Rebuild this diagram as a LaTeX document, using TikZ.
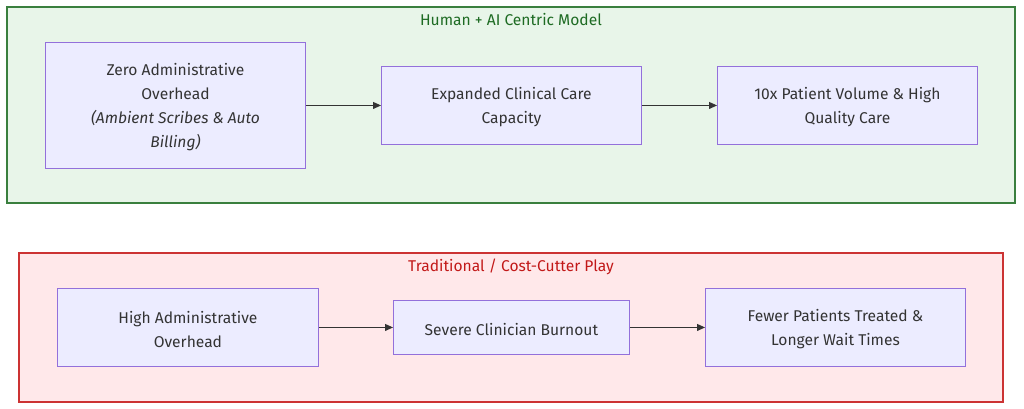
\documentclass[tikz,border=0pt]{standalone}
\usepackage{fontspec}
\setmainfont{Fira Sans}
\usetikzlibrary{arrows.meta}
\definecolor{nodefill}{HTML}{ECECFF}
\definecolor{nodeline}{HTML}{9370DB}
\definecolor{gfill}{HTML}{E8F5E9}
\definecolor{gline}{HTML}{3A7F3E}
\definecolor{gtext}{HTML}{1E6B23}
\definecolor{rfill}{HTML}{FFE8EA}
\definecolor{rline}{HTML}{CC3333}
\definecolor{rtext}{HTML}{C21818}
\definecolor{edge}{HTML}{333333}
\begin{document}
\begin{tikzpicture}[x=1pt,y=-1pt,
  box/.style={draw=nodeline,fill=nodefill,line width=0.9pt,inner sep=0pt,anchor=north west},
  txt/.style={font=\fontsize{15.6}{24}\selectfont,text=edge,align=center},
  flow/.style={draw=edge,line width=0.9pt,-{Triangle[length=8pt,width=7pt]}},
  grp/.style={line width=1.6pt}]
\useasboundingbox (0,0) rectangle (1024,408);
% green group
\draw[grp,draw=gline,fill=gfill] (7,7) rectangle (1015,203);
\node[text=gtext,font=\fontsize{15.6}{17}\selectfont] (gt) at (511,20) {Human + AI Centric Model};
\node[box,minimum width=260pt,minimum height=126pt] (a1) at (45,42) {};
\node[txt] at ([yshift=-2pt]a1.center) {Zero Administrative\\Overhead\\\textit{(Ambient Scribes \& Auto}\\\textit{Billing)}};
\node[box,minimum width=260pt,minimum height=78pt] (a2) at (381,66) {};
\node[txt] at ([yshift=-2pt]a2.center) {Expanded Clinical Care\\Capacity};
\node[box,minimum width=260pt,minimum height=78pt] (a3) at (717,66) {};
\node[txt] at ([yshift=-2pt]a3.center) {10x Patient Volume \& High\\Quality Care};
\draw[flow] (a1.east) -- (a2.west);
\draw[flow] (a2.east) -- (a3.west);
% red group
\draw[grp,draw=rline,fill=rfill] (19,253) rectangle (1003,402);
\node[text=rtext,font=\fontsize{15.6}{17}\selectfont] (rt) at (511,267) {Traditional / Cost-Cutter Play};
\node[box,minimum width=261pt,minimum height=78pt] (b1) at (57,288) {};
\node[txt] at ([yshift=-2pt]b1.center) {High Administrative\\Overhead};
\node[box,minimum width=236pt,minimum height=54pt] (b2) at (393,300) {};
\node[txt] at ([yshift=-2pt]b2.center) {Severe Clinician Burnout};
\node[box,minimum width=260pt,minimum height=78pt] (b3) at (705,288) {};
\node[txt] at ([yshift=-2pt]b3.center) {Fewer Patients Treated \&\\Longer Wait Times};
\draw[flow] (b1.east) -- (b2.west);
\draw[flow] (b2.east) -- (b3.west);
\end{tikzpicture}
\end{document}
